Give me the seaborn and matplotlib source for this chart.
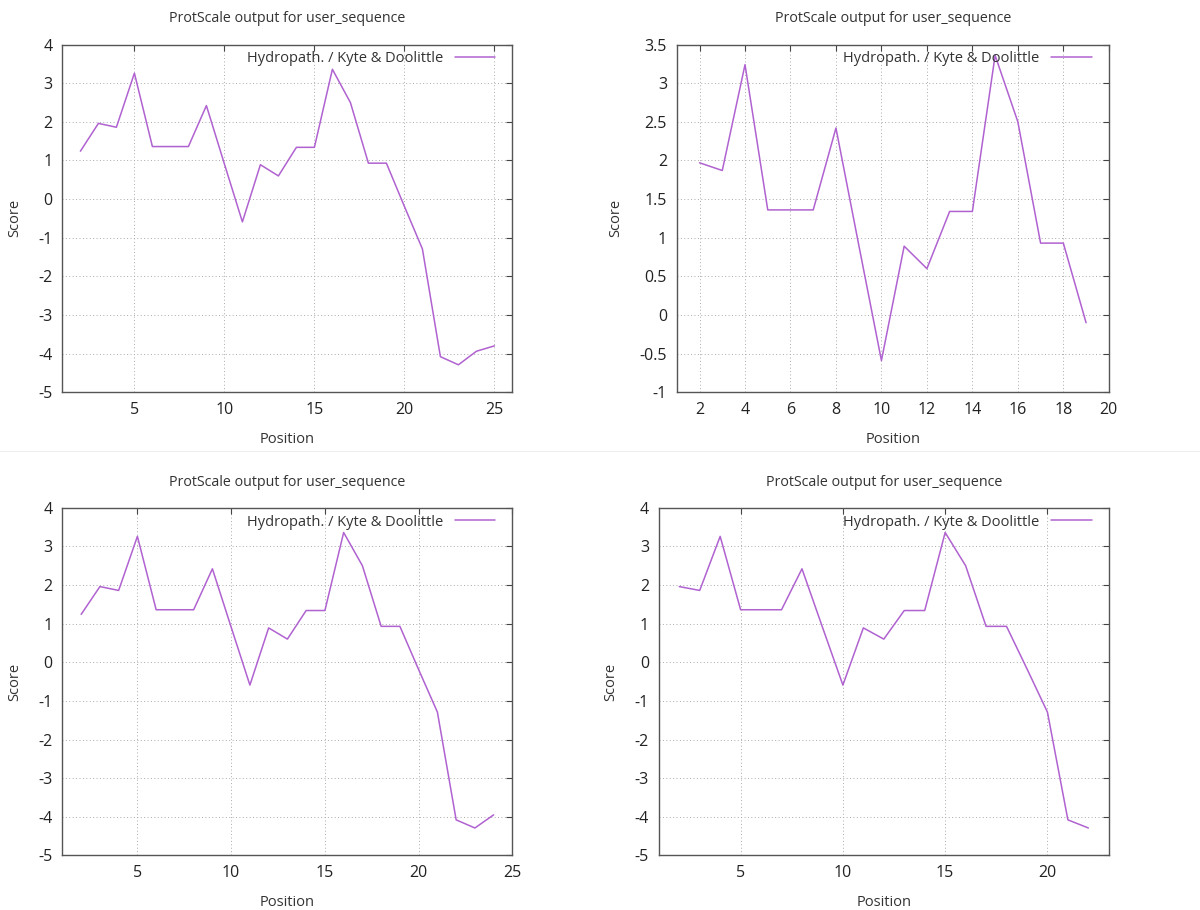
"""
Four ProtScale hydropathy plots (Kyte & Doolittle) in a 2x2 grid,
redrawn in seaborn with a gnuplot-like look.
"""

import numpy as np
import pandas as pd
import matplotlib.pyplot as plt
import seaborn as sns

TITLE  = "ProtScale output for user_sequence"
LABEL  = "Hydropath. / Kyte & Doolittle"
COLOUR = "#b062d0"

# panel A: positions 2..25
pos_a   = list(range(2, 26))
score_a = [1.24, 1.96, 1.86, 3.26, 1.36, 1.36, 1.36, 2.42, 0.91, -0.59,
           0.89, 0.60, 1.34, 1.34, 3.36, 2.50, 0.93, 0.93, -0.19, -1.29,
           -4.08, -4.29, -3.94, -3.80]

# panel B: positions 2..19
pos_b   = list(range(2, 20))
score_b = [1.97, 1.87, 3.24, 1.36, 1.36, 1.36, 2.42, 0.91, -0.59, 0.89,
           0.60, 1.34, 1.34, 3.36, 2.50, 0.93, 0.93, -0.10]

# panel C: positions 2..24
pos_c   = list(range(2, 25))
score_c = [1.24, 1.96, 1.86, 3.26, 1.36, 1.36, 1.36, 2.42, 0.91, -0.59,
           0.89, 0.60, 1.34, 1.34, 3.36, 2.50, 0.93, 0.93, -0.19, -1.29,
           -4.08, -4.29, -3.95]

# panel D: positions 2..22
pos_d   = list(range(2, 23))
score_d = [1.96, 1.86, 3.26, 1.36, 1.36, 1.36, 2.42, 0.91, -0.59, 0.89,
           0.60, 1.34, 1.34, 3.36, 2.50, 0.93, 0.93, -0.17, -1.29, -4.08,
           -4.29]

sns.set_style("white")
plt.rcParams["font.family"] = ["Open Sans", "DejaVu Sans"]
plt.rcParams["text.color"] = "#333333"
plt.rcParams["axes.labelcolor"] = "#333333"

fig = plt.figure(figsize=(12, 9.1), dpi=100)

# (rect, positions, scores, xlim, xticks, ylim, yticks)
panels = [
    ([0.052, 0.569, 0.375, 0.382], pos_a, score_a, (1, 26),
     [5, 10, 15, 20, 25], (-5, 4), np.arange(-5, 5, 1)),
    ([0.564, 0.569, 0.360, 0.382], pos_b, score_b, (1, 20),
     np.arange(2, 21, 2), (-1, 3.5), np.arange(-1, 3.6, 0.5)),
    ([0.052, 0.060, 0.375, 0.382], pos_c, score_c, (1, 25),
     [5, 10, 15, 20, 25], (-5, 4), np.arange(-5, 5, 1)),
    ([0.549, 0.060, 0.375, 0.382], pos_d, score_d, (1, 23),
     [5, 10, 15, 20], (-5, 4), np.arange(-5, 5, 1)),
]

for rect, pos, score, xlim, xt, ylim, yt in panels:
    ax = fig.add_axes(rect)
    df = pd.DataFrame({"Position": pos, "Score": score})
    sns.lineplot(data=df, x="Position", y="Score", ax=ax, color=COLOUR,
                 linewidth=1.1, label=LABEL)
    ax.set_xlim(*xlim); ax.set_ylim(*ylim)
    ax.set_xticks(xt); ax.set_yticks(yt)
    ax.set_yticklabels([f"{v:g}" for v in yt])
    ax.grid(True, linestyle=(0, (1, 2.5)), color="#aaaaaa", linewidth=0.7)
    ax.set_axisbelow(True)
    for s in ax.spines.values():
        s.set_color("#555555"); s.set_linewidth(1.0)
    ax.tick_params(direction="in", length=4, width=0.8, top=True, right=True,
                   labelsize=11.5, pad=7, colors="#444444",
                   labelcolor="#222222")
    ax.set_title(TITLE, fontsize=10.3, pad=16, color="#333333")
    ax.set_xlabel("Position", fontsize=10.5, labelpad=10)
    ax.set_ylabel("Score", fontsize=10.5, labelpad=12)
    ax.legend(loc="upper right", bbox_to_anchor=(0.985, 1.01),
              frameon=False, markerfirst=False, fontsize=10.5,
              handlelength=2.8, borderaxespad=0.3, handletextpad=0.8)

# faint divider between the top and bottom rows, as in the screenshot
fig.add_artist(plt.Line2D([0, 1], [0.504, 0.504], color="#eeeeee",
                          linewidth=0.8))

fig.savefig("out.png", dpi=100)
plt.close()
